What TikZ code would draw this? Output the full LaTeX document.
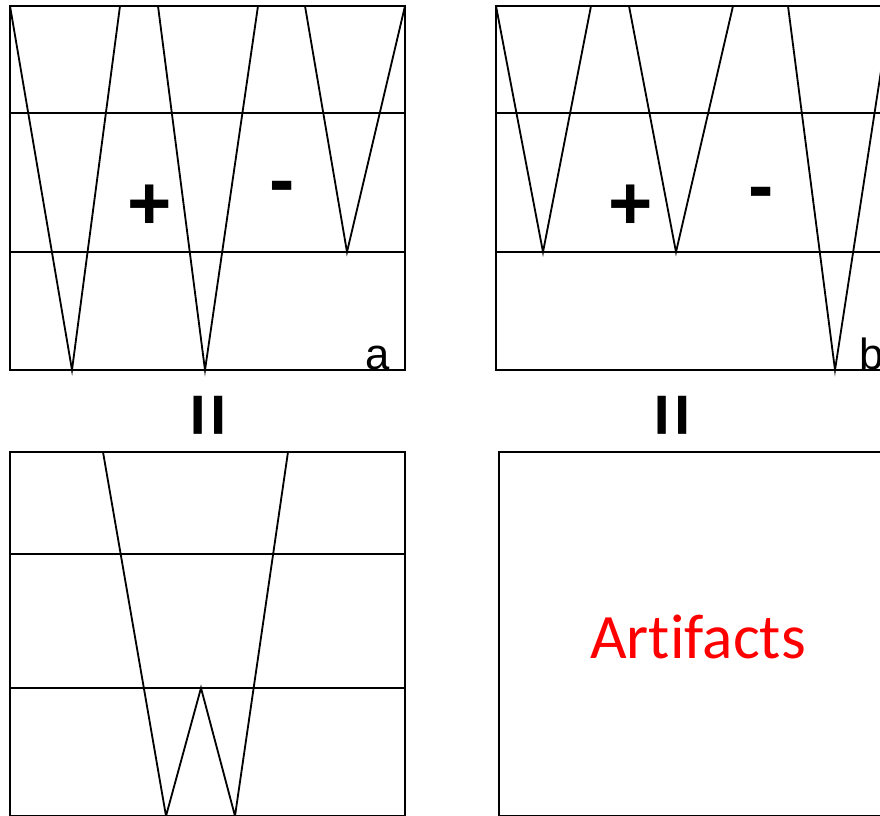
\documentclass[tikz,border=0pt]{standalone}
\usepackage{fontspec}
\setmainfont{Liberation Sans}
\newfontfamily\calib[Ligatures=NoCommon]{Carlito}
\usetikzlibrary{positioning}
\definecolor{ink}{HTML}{000000}
\definecolor{warn}{HTML}{FF0000}

\begin{document}
\begin{tikzpicture}[x=0.025cm,y=-0.025cm,line width=1.3pt,draw=ink,
  every node/.style={text=ink,inner sep=0pt},
  sign/.style={font=\bfseries\fontsize{54}{54}\selectfont},
  tag/.style={font=\fontsize{31}{31}\selectfont,anchor=base}]
  \useasboundingbox (0,0) rectangle (880,815);
  \clip (0,0) rectangle (880,815);
  % panel a
  \draw (10,6) rectangle (405,370);
  \draw (10,113) -- (405,113) (10,252) -- (405,252);
  \draw (10,6) -- (72,370) -- (120,6) (158,6) -- (205,370) -- (258,6) (305,6) -- (347,252) -- (405,6);
  \node[sign] (plusA) at (150,207) {+};
  \node[sign] (minusA) at (282,193) {-};
  \node[tag] (labA) at (378,369) {a};
  % panel b
  \draw (496,6) rectangle (891,370);
  \draw (496,113) -- (891,113) (496,252) -- (891,252);
  \draw (496,6) -- (543,252) -- (591,6) (629,6) -- (676,252) -- (733,6) (788,6) -- (835,370) -- (891,6);
  \node[sign] (plusB) at (631,207) {+};
  \node[sign] (minusB) at (761,199) {-};
  \node[tag] (labB) at (872,369) {b};
  % equals
  \node[sign,rotate=90] (eqA) at (214,415) {=};
  \node[sign,rotate=90] (eqB) at (678,415) {=};
  % panel c
  \draw (10,452) rectangle (405,816);
  \draw (10,554) -- (405,554) (10,688) -- (405,688);
  \draw (103,452) -- (166,816) -- (201,688) -- (235,816) -- (288,452);
  % panel d
  \draw (499,452) rectangle (894,816);
  \node[font=\calib\fontsize{45}{45}\selectfont,text=warn] (artif) at (698,637) {Artifacts};
\end{tikzpicture}
\end{document}
